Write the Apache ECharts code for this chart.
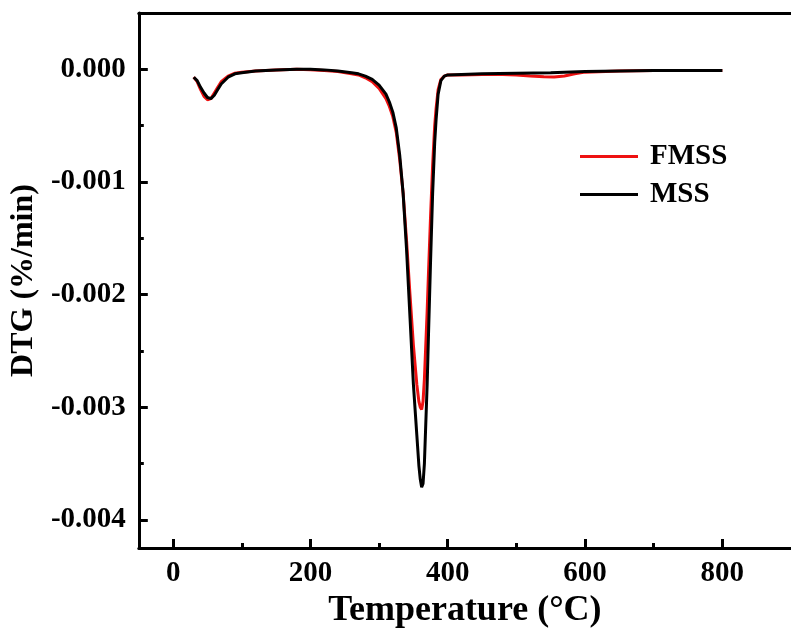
<!DOCTYPE html>
<html>
<head>
<meta charset="utf-8">
<script src="https://cdn.jsdelivr.net/npm/echarts@6/dist/echarts.min.js"></script>
<style>html,body{margin:0;padding:0;background:#fff;}#c{width:791px;height:641px;}</style>
</head>
<body>
<div id="c"></div>
<script>
// ---- data (temperature in °C, DTG in %/min) ----
const fmssT = [30,35,40,45,50,55,60,65,70,80,90,100,120,150,180,200,220,240,260,270,280,290,300,310,315,320,325,330,335,340,345,350,355,358,360,362,364,366,368,370,372,375,378,381,383,386,390,395,400,420,450,480,500,520,540,555,570,585,600,650,700,750,800];
const fmssV = [-0.00007,-0.00011,-0.00018,-0.00024,-0.00027,-0.00026,-0.00021,-0.00016,-0.00011,-0.00006,-0.000035,-0.000025,-0.000015,-0.000005,0,-0.000003,-0.00001,-0.00002,-0.00004,-0.00005,-0.000075,-0.00011,-0.00017,-0.00026,-0.00033,-0.00042,-0.00056,-0.0008,-0.0011,-0.00152,-0.002,-0.00245,-0.0028,-0.00295,-0.003,-0.00302,-0.00295,-0.00275,-0.00245,-0.00215,-0.0018,-0.0013,-0.00085,-0.0005,-0.00035,-0.00018,-0.00009,-0.00006,-0.00005,-0.00005,-0.000045,-0.000045,-0.00005,-0.00006,-0.000065,-0.000068,-0.00006,-0.00004,-0.000025,-0.000015,-0.00001,-0.00001,-0.00001];
const mssT = [30,35,40,45,50,55,60,65,70,80,90,100,120,150,180,200,220,240,260,270,280,290,300,310,315,320,325,330,335,340,345,350,355,358,360,362,364,366,368,370,372,375,378,381,383,386,390,395,400,420,450,500,550,600,650,700,750,800];
const mssV = [-0.00007,-0.0001,-0.00016,-0.00021,-0.00025,-0.00026,-0.00023,-0.00018,-0.00013,-0.00007,-0.00004,-0.00003,-0.000015,-0.000005,0,0,-0.000005,-0.000015,-0.00003,-0.00004,-0.00006,-0.00009,-0.00014,-0.00022,-0.00029,-0.00038,-0.00052,-0.00076,-0.0011,-0.0016,-0.0022,-0.0028,-0.00325,-0.00352,-0.00364,-0.00371,-0.00368,-0.0035,-0.00315,-0.0028,-0.00235,-0.0017,-0.0011,-0.00065,-0.00045,-0.00022,-0.0001,-0.00006,-0.00005,-0.000045,-0.00004,-0.000035,-0.00003,-0.00002,-0.000015,-0.00001,-0.00001,-0.00001];
const xMajorTicks = [0,200,400,600,800];
const xMinorTicks = [100,300,500,700];
const yMajorTicks = [-0.004,-0.003,-0.002,-0.001,0];
const yMinorTicks = [-0.0035,-0.0025,-0.0015,-0.0005];

const FONT = 'Liberation Serif';
const pairs = (t, v) => t.map((x, i) => [x, v[i]]);

const chart = echarts.init(document.getElementById('c'), null, {renderer: 'canvas'});
const axisLineStyle = {color: '#000', width: 3};
const labelStyle = {fontFamily: FONT, fontWeight: 'bold', fontSize: 29, color: '#000'};

chart.setOption({
  animation: false,
  backgroundColor: '#fff',
  grid: {left: 137, top: 13, bottom: 93, width: 661.4, containLabel: false},
  legend: {
    orient: 'vertical', left: 575, top: 137, itemWidth: 58, itemHeight: 3, itemGap: 9,
    icon: 'rect',
    textStyle: {fontFamily: FONT, fontWeight: 'bold', fontSize: 29, color: '#000', padding: [0, 0, 0, 7]},
    data: ['FMSS', 'MSS']
  },
  xAxis: [
    {
      type: 'value', min: -50, max: 900, position: 'bottom',
      axisLine: {show: true, onZero: false, lineStyle: axisLineStyle},
      axisTick: {show: true, inside: true, length: 9, lineStyle: {color: '#000', width: 3}, customValues: xMajorTicks},
      axisLabel: Object.assign({customValues: xMajorTicks, margin: 11, formatter: v => String(v)}, labelStyle),
      splitLine: {show: false},
      name: 'Temperature (°C)', nameLocation: 'middle', nameGap: 40,
      nameTextStyle: {fontFamily: FONT, fontWeight: 'bold', fontSize: 36, color: '#000'}
    },
    {
      type: 'value', min: -50, max: 900, position: 'bottom',
      axisLine: {show: false, onZero: false},
      axisTick: {show: true, inside: true, length: 5, lineStyle: {color: '#000', width: 3}, customValues: xMinorTicks},
      axisLabel: {show: false},
      splitLine: {show: false}
    },
    {
      type: 'value', min: -50, max: 900, position: 'top',
      axisLine: {show: true, onZero: false, lineStyle: axisLineStyle},
      axisTick: {show: false}, axisLabel: {show: false}, splitLine: {show: false}
    }
  ],
  yAxis: [
    {
      type: 'value', min: -0.00425, max: 0.0005, position: 'left',
      axisLine: {show: true, onZero: false, lineStyle: axisLineStyle},
      axisTick: {show: true, inside: true, length: 9, lineStyle: {color: '#000', width: 3}, customValues: yMajorTicks},
      axisLabel: Object.assign({customValues: yMajorTicks, margin: 13, formatter: v => v.toFixed(3)}, labelStyle),
      splitLine: {show: false},
      name: 'DTG (%/min)', nameLocation: 'middle', nameGap: 90,
      nameTextStyle: {fontFamily: FONT, fontWeight: 'bold', fontSize: 32, color: '#000'}
    },
    {
      type: 'value', min: -0.00425, max: 0.0005, position: 'left',
      axisLine: {show: false, onZero: false},
      axisTick: {show: true, inside: true, length: 5, lineStyle: {color: '#000', width: 3}, customValues: yMinorTicks},
      axisLabel: {show: false},
      splitLine: {show: false}
    }
  ],
  series: [
    {
      name: 'FMSS', type: 'line', xAxisIndex: 0, yAxisIndex: 0,
      data: pairs(fmssT, fmssV), showSymbol: false, symbol: 'none',
      lineStyle: {color: '#ee1111', width: 3}, itemStyle: {color: '#ee1111'}, z: 2
    },
    {
      name: 'MSS', type: 'line', xAxisIndex: 0, yAxisIndex: 0,
      data: pairs(mssT, mssV), showSymbol: false, symbol: 'none',
      lineStyle: {color: '#000', width: 3}, itemStyle: {color: '#000'}, z: 3
    }
  ]
});
</script>
</body>
</html>
